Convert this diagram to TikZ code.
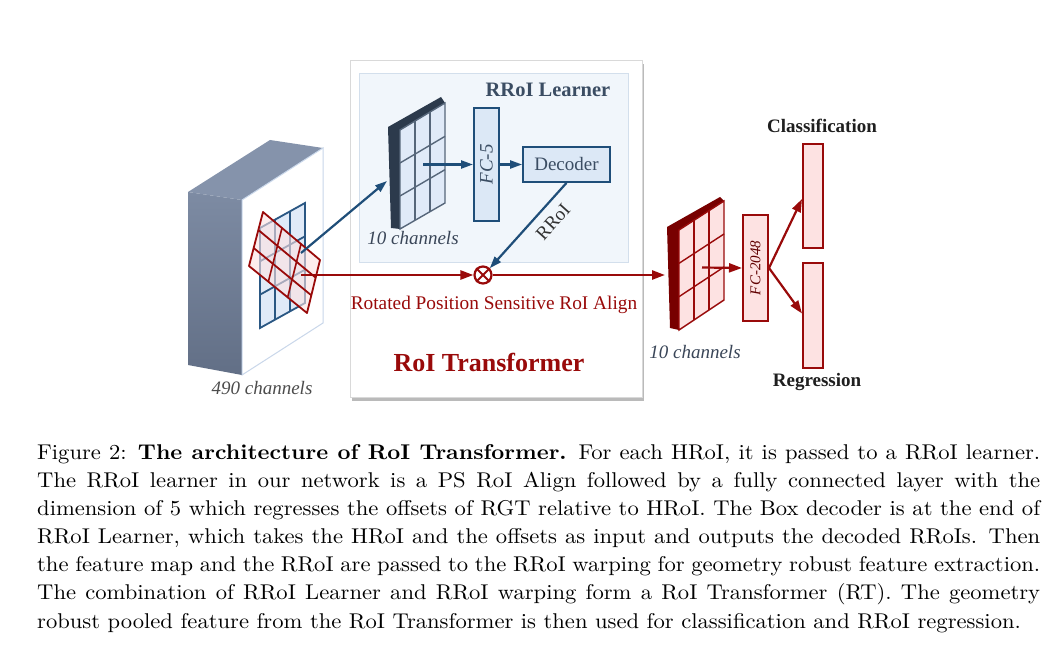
\documentclass[tikz,border=0pt]{standalone}
\usepackage{fontspec}
\newfontfamily\dfont{Liberation Serif}
\usetikzlibrary{arrows.meta,calc,shadows}
\definecolor{dred}{HTML}{990A0A}
\definecolor{dkred}{HTML}{780000}
\definecolor{pinkf}{HTML}{FDE2E2}
\definecolor{dblue}{HTML}{1F4E79}
\definecolor{gblue}{HTML}{2A5783}
\definecolor{lblue}{HTML}{DCE8F6}
\definecolor{cellblue}{HTML}{E0EAF8}
\definecolor{slab}{HTML}{2C3A4C}
\definecolor{slabline}{HTML}{56667A}
\definecolor{learnbg}{HTML}{F1F6FB}
\definecolor{learnbd}{HTML}{D3DFEC}
\definecolor{titleblue}{HTML}{3B4D63}
\definecolor{txtgray}{HTML}{3A4658}
\definecolor{lefttop}{HTML}{7D8BA3}
\definecolor{leftbot}{HTML}{626F86}
\definecolor{topface}{HTML}{8593AB}
\definecolor{frontbd}{HTML}{C9D7EA}
\tikzset{
  lbl/.style={inner sep=0, font=\dfont\fontsize{19}{22}\selectfont},
  ilbl/.style={inner sep=0, font=\dfont\itshape\fontsize{19}{22}\selectfont, text=txtgray},
  barrow/.style={draw=dblue, line width=2.2pt, -{Triangle[length=12pt,width=8pt]}},
  rarrow/.style={draw=dred, line width=2.5pt, -{Triangle[length=13pt,width=9pt]}},
  bbox/.style={draw=dblue, fill=lblue, line width=2pt, inner sep=0},
  rbox/.style={draw=dred, fill=pinkf, line width=2pt, inner sep=0},
}
\begin{document}
\begin{tikzpicture}[x=1pt,y=-1pt]
\fill[white] (0,0) rectangle (1058,655);
\useasboundingbox (0,0) rectangle (1058,655);

% RoI Transformer box
\node[draw=black!15, fill=white, line width=0.8pt, minimum width=292, minimum height=337, inner sep=0,
  drop shadow={shadow xshift=2pt, shadow yshift=-4pt, fill=black!45, opacity=0.6}] (rt) at (496,228.5) {};
% RRoI Learner box
\node[draw=learnbd, fill=learnbg, line width=0.8pt, minimum width=269, minimum height=189, inner sep=0] (rl) at (493.5,167.5) {};

% 490-channel block
\shade[top color=lefttop, bottom color=leftbot] (188,192) -- (242,200) -- (242,375) -- (188,365) -- cycle;
\fill[topface] (188,192) -- (270,140) -- (323,148) -- (242,200) -- cycle;
\filldraw[fill=white, draw=frontbd, line width=1pt] (242,200) -- (323,148) -- (323,323) -- (242,375) -- cycle;

% blue grid on block
\coordinate (g1) at (260,228); \coordinate (g2) at (305,203);
\coordinate (g3) at (305,303); \coordinate (g4) at (260,328);
\filldraw[fill=cellblue, draw=gblue, line width=1.8pt] (g1) -- (g2) -- (g3) -- (g4) -- cycle;
\foreach \t in {0.3333,0.6667}{
  \draw[gblue, line width=1.8pt] ($(g1)!\t!(g2)$) -- ($(g4)!\t!(g3)$);
  \draw[gblue, line width=1.8pt] ($(g1)!\t!(g4)$) -- ($(g2)!\t!(g3)$);
}
% rotated red grid
\coordinate (r1) at (263,212); \coordinate (r2) at (320,260);
\coordinate (r3) at (307,313); \coordinate (r4) at (249,266);
\fill[pinkf, fill opacity=0.6] (r1) -- (r2) -- (r3) -- (r4) -- cycle;
\draw[dred, line width=1.8pt, line join=round] (r1) -- (r2) -- (r3) -- (r4) -- cycle;
\foreach \t in {0.3333,0.6667}{
  \draw[dred, line width=1.8pt] ($(r1)!\t!(r4)$) -- ($(r2)!\t!(r3)$);
  \draw[dred, line width=1.6pt] ($(r1)!\t!(r2)$) -- ($(r4)!\t!(r3)$);
}
\node[ilbl, text=black!70] (c490) at (262,388) {490 channels};

% blue 10-channel map
\coordinate (bA) at (400,130); \coordinate (bB) at (445,103);
\coordinate (bC) at (445,203); \coordinate (bD) at (400,229);
\fill[slab] (388,127) -- (441,97) -- (bB) -- (bA) -- (bD) -- (391,228) -- cycle;
\filldraw[fill=cellblue, draw=slabline, line width=1.4pt] (bA) -- (bB) -- (bC) -- (bD) -- cycle;
\foreach \t in {0.3333,0.6667}{
  \draw[slabline, line width=1.4pt] ($(bA)!\t!(bB)$) -- ($(bD)!\t!(bC)$);
  \draw[slabline, line width=1.4pt] ($(bA)!\t!(bD)$) -- ($(bB)!\t!(bC)$);
}
\coordinate (bmL) at (387,181);
\coordinate (bmC) at (423,164.5);
\node[ilbl] (c10a) at (413,238) {10 channels};

% FC-5 and decoder
\node[bbox, minimum width=25, minimum height=113] (fc5) at (486.5,164.5) {};
\node[inner sep=0, rotate=90, font=\dfont\itshape\fontsize{19}{22}\selectfont, text=titleblue] (fc5t) at (fc5) {FC-5};
\node[bbox, line width=1.8pt, minimum width=87, minimum height=35, font=\dfont\fontsize{19}{22}\selectfont, text=titleblue] (dec) at (566.5,164.5) {Decoder};
\node[inner sep=0, font=\dfont\bfseries\fontsize{20.5}{24}\selectfont, text=titleblue] (rlt) at (548,90) {RRoI Learner};

% otimes
\node[circle, draw=dred, fill=white, line width=2.2pt, minimum size=17pt, inner sep=0] (ot) at (483,275) {};
\draw[dred, line width=2pt] (ot.north west) -- (ot.south east) (ot.north east) -- (ot.south west);

% arrows in the learner
\coordinate (rgA) at (301,253);
\coordinate (rgB) at (301,275);
\draw[barrow] (rgA) -- (bmL);
\draw[barrow] (bmC) -- (fc5.west);
\draw[barrow] (fc5.east) -- (dec.west);
\draw[barrow] (dec.south) -- (ot.north east);
\node[lbl, rotate=48, text=black!80] (rroi) at (553,222) {RRoI};

% red main arrows
\coordinate (rmL) at (665,275);
\draw[rarrow] (rgB) -- (ot.west);
\draw[rarrow] (ot.east) -- (rmL);

\node[inner sep=0, font=\dfont\fontsize{19.3}{22}\selectfont, text=dred] (rpsra) at (494,305) {Rotated Position Sensitive RoI Align};
\node[inner sep=0, font=\dfont\bfseries\fontsize{26}{30}\selectfont, text=dred] (rtt) at (489,362) {RoI Transformer};

% red 10-channel map
\coordinate (qA) at (679,230); \coordinate (qB) at (724,201);
\coordinate (qC) at (724,300); \coordinate (qD) at (679,330);
\fill[dkred] (667,227) -- (720,197) -- (qB) -- (qA) -- (qD) -- (670,328) -- cycle;
\filldraw[fill=pinkf, draw=dred, line width=1.4pt] (qA) -- (qB) -- (qC) -- (qD) -- cycle;
\foreach \t in {0.3333,0.6667}{
  \draw[dred, line width=1.4pt] ($(qA)!\t!(qB)$) -- ($(qD)!\t!(qC)$);
  \draw[dred, line width=1.4pt] ($(qA)!\t!(qD)$) -- ($(qB)!\t!(qC)$);
}
\coordinate (rmC) at (702,267.5);
\node[ilbl] (c10b) at (695,352) {10 channels};

% FC-2048 and heads
\node[rbox, minimum width=25, minimum height=106] (fc2) at (755.5,268) {};
\node[inner sep=0, rotate=90, font=\dfont\itshape\fontsize{15}{18}\selectfont, text=dkred!80!black] (fc2t) at (fc2) {FC-2048};
\node[rbox, minimum width=20, minimum height=104] (cls) at (813,196) {};
\node[rbox, minimum width=20, minimum height=105] (reg) at (813,315.5) {};
\draw[rarrow, line width=2.2pt] (rmC) -- (fc2.west);
\draw[rarrow, line width=2.2pt] (fc2.east) -- ($(cls.west)+(0,3)$);
\draw[rarrow, line width=2.2pt] (fc2.east) -- ($(reg.west)+(0,-2)$);
\node[inner sep=0, font=\dfont\bfseries\fontsize{19}{22}\selectfont, text=black!88] (clst) at (822,126) {Classification};
\node[inner sep=0, font=\dfont\bfseries\fontsize{19}{22}\selectfont, text=black!88] (regt) at (817,382) {Regression};

% caption
\node[anchor=base west, inner sep=0, font=\rmfamily] (cap) at (37,459) {\scalebox{2.26}[2.135]{\parbox[t]{443.8pt}{\fontsize{10}{13.2}\selectfont\noindent
Figure 2: \textbf{The architecture of RoI Transformer.} For each HRoI, it is passed to a RRoI learner.\linebreak
The RRoI learner in our network is a PS RoI Align followed by a fully connected layer with the\linebreak
dimension of 5 which regresses the offsets of RGT relative to HRoI. The Box decoder is at the end of\linebreak
RRoI Learner, which takes the HRoI and the offsets as input and outputs the decoded RRoIs. Then\linebreak
the feature map and the RRoI are passed to the RRoI warping for geometry robust feature extraction.\linebreak
The combination of RRoI Learner and RRoI warping form a RoI Transformer (RT). The geometry\linebreak
robust pooled feature from the RoI Transformer is then used for classification and RRoI regression.}}};
\end{tikzpicture}
\end{document}
